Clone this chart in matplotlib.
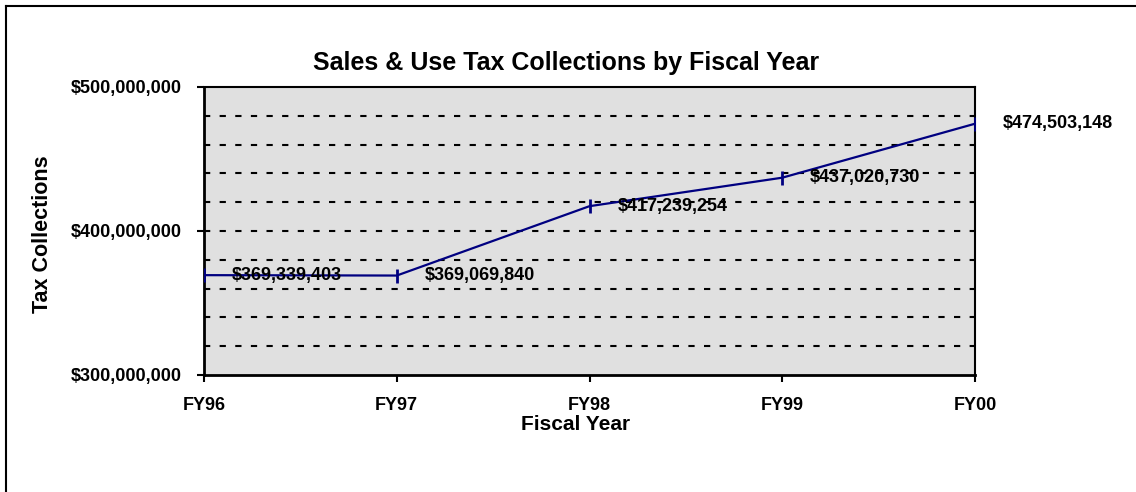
import matplotlib
matplotlib.use("Agg")
import matplotlib.pyplot as plt
from matplotlib.lines import Line2D
from matplotlib.ticker import FuncFormatter, MultipleLocator

# data
years = ["FY96", "FY97", "FY98", "FY99", "FY00"]
collections = [369339403, 369069840, 417239254, 437020730, 474503148]

W, H = 1136, 492
plt.rcParams["font.family"] = ["Liberation Sans", "DejaVu Sans"]
plt.rcParams["font.weight"] = "bold"

fig = plt.figure(figsize=(W / 100, H / 100), dpi=100)

# plot area in pixel coords: x 204..975, y 87..375 (from top)
ax = fig.add_axes([204 / W, 1 - 375 / H, (975 - 204) / W, (375 - 87) / H])
ax.set_facecolor("#e0e0e0")

x = list(range(len(years)))
ax.plot(x, collections, color="#000080", lw=1.6, marker="|", ms=10, mew=2, zorder=3)

for xi, v in zip(x, collections):
    ax.annotate(f"${v:,.0f}", (xi, v), xytext=(28, 0), textcoords="offset pixels",
                ha="left", va="center", fontsize=13, fontweight="bold",
                annotation_clip=False, zorder=4)

ax.set_xlim(0, len(years) - 1)
ax.set_ylim(300e6, 500e6)
ax.set_xticks(x)
ax.set_xticklabels(years)
ax.yaxis.set_major_locator(MultipleLocator(100e6))
ax.yaxis.set_major_formatter(FuncFormatter(lambda v, p: f"${v:,.0f}"))

# dashed gridlines every 20M
for g in range(320, 500, 20):
    ax.axhline(g * 1e6, color="black", lw=1.5, ls=(0, (3, 4.5)), zorder=1)

ax.tick_params(axis="both", direction="out", length=5, width=1.5,
               labelsize=13, colors="black")
ax.tick_params(axis="x", pad=11)
ax.tick_params(axis="y", pad=11)
for lbl in ax.get_xticklabels() + ax.get_yticklabels():
    lbl.set_fontweight("bold")
for side in ["left", "bottom"]:
    ax.spines[side].set_linewidth(2)
for side in ["top", "right"]:
    ax.spines[side].set_linewidth(1.5)

fig.text(566 / W, 1 - 63 / H, "Sales & Use Tax Collections by Fiscal Year",
         ha="center", va="center", fontsize=18, fontweight="bold")
fig.text(576 / W, 1 - 424 / H, "Fiscal Year", ha="center", va="center",
         fontsize=15, fontweight="bold")
fig.text(43 / W, 1 - 234 / H, "Tax Collections", ha="center", va="center",
         rotation=90, fontsize=15.5, fontweight="bold")

# outer chart frame (only left and top edges fall inside the picture)
fig.add_artist(Line2D([6 / W, 6 / W], [0, 1 - 6 / H], color="black", lw=1.5,
                      transform=fig.transFigure))
fig.add_artist(Line2D([6 / W, 1], [1 - 6 / H, 1 - 6 / H], color="black", lw=1.5,
                      transform=fig.transFigure))

fig.savefig("out.png", dpi=100)
